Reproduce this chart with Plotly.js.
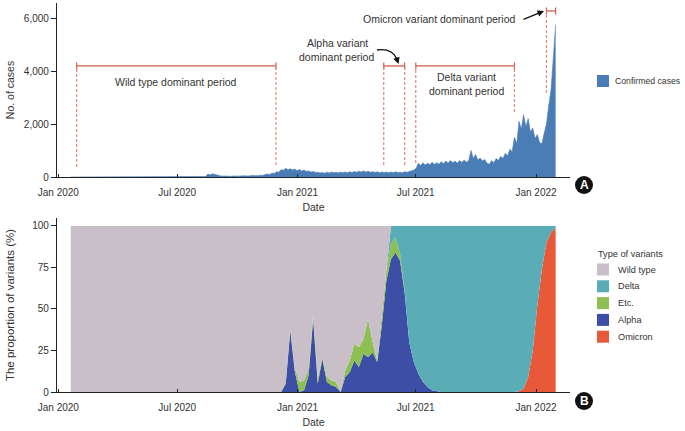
<!DOCTYPE html>
<html>
<head>
<meta charset="utf-8">
<script src="https://cdn.plot.ly/plotly-3.0.1.min.js"></script>
<style>html,body{margin:0;padding:0;background:#fff;}#chart{width:685px;height:431px;}</style>
</head>
<body>
<div id="chart"></div>
<script>
// ---------------- DATA ----------------
const tickDates = ['2020-01-01', '2020-07-01', '2021-01-01', '2021-07-01', '2022-01-01'];
const tickLabels = ['Jan 2020', 'Jul 2020', 'Jan 2021', 'Jul 2021', 'Jan 2022'];

// Confirmed cases, read every 3.5 days starting 2020-01-20
const casesStart = '2020-01-20';
const casesStepDays = 3.5;
const cases = [
  0, 0, 2, 3, 8, 15, 12, 20, 18, 10, 8, 5, 6, 4, 3, 3, 2, 2, 1, 3,
  4, 5, 6, 8, 10, 7, 6, 5, 8, 10, 12, 9, 8, 6, 5, 6, 8, 10, 9, 7,
  8, 10, 12, 8, 6, 5, 4, 5, 7, 9, 8, 6, 5, 4, 6, 8, 10, 12, 15, 20,
  110, 80, 120, 95, 70,
  45, 30, 40, 28, 35, 25, 38, 30, 40, 32, 45, 35, 50, 40, 55, 45, 60, 50, 70, 60, 90,
  110, 90, 150, 130, 200, 180, 280, 250,
  330, 270, 310, 260, 300, 240, 280,
  230, 260, 210, 230, 190, 210, 170, 180, 150,
  170, 140, 180, 150, 190, 160, 175, 150, 185, 160, 190, 165, 200, 170, 210, 180, 220, 185, 230, 190,
  215, 180, 200, 170, 195, 165, 190, 160, 185, 160, 190, 165, 195, 170, 180, 160, 200, 175, 210,
  230, 260, 330,
  520, 430, 540, 450, 520, 460, 560, 470, 540, 480, 580,
  500, 600, 520, 620, 540, 600, 520, 620, 550, 640, 560, 620,
  1000,
  700, 850, 640, 720, 600, 660, 520, 480,
  620, 540, 700, 620, 780, 700, 900, 800, 1050, 950,
  1500, 1250, 2100, 1800, 2350, 1900, 2200,
  1700, 1850, 1450, 1600, 1300, 1250, 1650,
  2000, 2700, 3300, 4500, 5750
];
const casesName = 'Confirmed cases';

// Weekly proportion of variants (%)
const variantDates = [
  '2020-01-20',
  '2020-11-30', '2020-12-07', '2020-12-14', '2020-12-21', '2020-12-28',
  '2021-01-04', '2021-01-11', '2021-01-18', '2021-01-25',
  '2021-02-01', '2021-02-08', '2021-02-15', '2021-02-22',
  '2021-03-01', '2021-03-08', '2021-03-15', '2021-03-22', '2021-03-29',
  '2021-04-05', '2021-04-12', '2021-04-19', '2021-04-26',
  '2021-05-03', '2021-05-10', '2021-05-17', '2021-05-24', '2021-05-31',
  '2021-06-07', '2021-06-14', '2021-06-21', '2021-06-28',
  '2021-07-05', '2021-07-12', '2021-07-19', '2021-07-26',
  '2021-08-02', '2021-08-09', '2021-08-16', '2021-08-23', '2021-08-30',
  '2021-09-06', '2021-09-13', '2021-09-20', '2021-09-27',
  '2021-10-04', '2021-10-11', '2021-10-18', '2021-10-25',
  '2021-11-01', '2021-11-08', '2021-11-15', '2021-11-22', '2021-11-29',
  '2021-12-06', '2021-12-13', '2021-12-20', '2021-12-27',
  '2022-01-03', '2022-01-10', '2022-01-17', '2022-01-24', '2022-01-31'
];
const wildType = [
  100, 100, 100, 94, 62, 86, 94, 93, 86, 54, 92, 79, 91, 93, 94, 100, 87, 81, 71, 73,
  68, 56, 70, 81, 54, 27, 0, 0, 0, 0, 0, 0, 0, 0, 0, 0, 0, 0, 0, 0,
  0, 0, 0, 0, 0, 0, 0, 0, 0, 0, 0, 0, 0, 0, 0, 0, 0, 0, 0, 0,
  0, 0, 0
];
const delta = [
  0, 0, 0, 0, 0, 0, 0, 0, 0, 0, 0, 0, 0, 0, 0, 0, 0, 0, 0, 0,
  0, 0, 0, 0, 0, 0, 11, 7, 17, 39, 70, 82, 89, 94, 97, 99, 99.5, 100, 100, 100,
  100, 100, 100, 100, 100, 100, 100, 100, 100, 100, 100, 100, 100, 100, 99.5, 98, 91, 75, 48, 26,
  10, 4, 1
];
const etc = [
  0, 0, 0, 1, 1, 2, 6, 6, 4, 2, 3, 1, 3, 3, 3, 0, 4, 7, 10, 12,
  9, 23, 6, 1, 6, 6, 9, 9, 4, 1, 0, 0, 0, 0, 0, 0, 0, 0, 0, 0,
  0, 0, 0, 0, 0, 0, 0, 0, 0, 0, 0, 0, 0, 0, 0, 0, 0, 0, 0, 0,
  0, 0, 0
];
const alpha = [
  0, 0, 0, 5, 37, 12, 0, 1, 10, 44, 5, 20, 6, 4, 3, 0, 9, 12, 19, 15,
  23, 21, 24, 18, 40, 67, 80, 84, 79, 60, 30, 18, 11, 6, 3, 1, 0.5, 0, 0, 0,
  0, 0, 0, 0, 0, 0, 0, 0, 0, 0, 0, 0, 0, 0, 0, 0, 0, 0, 0, 0,
  0, 0, 0
];
const omicron = [
  0, 0, 0, 0, 0, 0, 0, 0, 0, 0, 0, 0, 0, 0, 0, 0, 0, 0, 0, 0,
  0, 0, 0, 0, 0, 0, 0, 0, 0, 0, 0, 0, 0, 0, 0, 0, 0, 0, 0, 0,
  0, 0, 0, 0, 0, 0, 0, 0, 0, 0, 0, 0, 0, 0, 0.5, 2, 9, 25, 52, 74,
  90, 96, 99
];
const variantNames = ['Wild type', 'Delta', 'Etc.', 'Alpha', 'Omicron'];
const variantLegendTitle = 'Type of variants';

// Dominant periods (annotations on panel A)
const periodLabels = [
  ['Wild type dominant period'],
  ['Alpha variant', 'dominant period'],
  ['Delta variant', 'dominant period'],
  ['Omicron variant dominant period']
];
const periodStart = ['2020-01-29', '2021-05-13', '2021-07-01', '2022-01-17'];
const periodEnd = ['2020-11-29', '2021-06-14', '2021-11-29', '2022-01-31'];

// ---------------- STYLE ----------------
const FONT = '"Liberation Sans", Arial, sans-serif';
const TXT = '#333333';
const colors = {
  cases: '#4a7db5',
  'Wild type': '#c9bfc9',
  'Delta': '#5aadb7',
  'Etc.': '#8dbf52',
  'Alpha': '#3d4ea6',
  'Omicron': '#e8593a'
};
const bracketColor = '#cf5d4c';
const dashColor = '#e2887d';

// plot area in pixels (for paper-referenced decorations)
const PL = 57, PR = 570, PT = 3, PB = 392;
const px = v => (v - PL) / (PR - PL);
const py = v => (PB - v) / (PB - PT);

const caseDates = cases.map((_, i) =>
  new Date(Date.parse(casesStart + 'T00:00:00Z') + i * casesStepDays * 86400000).toISOString());

const traces = [];
traces.push({
  type: 'scatter', mode: 'lines', x: caseDates, y: cases, name: casesName,
  fill: 'tozeroy', fillcolor: colors.cases,
  line: {color: colors.cases, width: 0.6},
  xaxis: 'x', yaxis: 'y', showlegend: false
});
// stacking order from bottom: Omicron, Alpha, Etc., Delta, Wild type
const stackOrder = [['Omicron', omicron], ['Alpha', alpha], ['Etc.', etc], ['Delta', delta], ['Wild type', wildType]];
stackOrder.forEach(([name, vals]) => {
  traces.push({
    type: 'scatter', mode: 'lines', x: variantDates, y: vals, name: name,
    stackgroup: 'variants', fillcolor: colors[name],
    line: {color: colors[name], width: 0},
    xaxis: 'x2', yaxis: 'y2', showlegend: false
  });
});

const xCommon = {
  type: 'date', range: ['2019-12-30', '2022-02-22'],
  tickmode: 'array', tickvals: tickDates, ticktext: tickLabels,
  ticks: 'inside', ticklen: 3, tickwidth: 1, tickcolor: '#222',
  showline: true, linecolor: '#222', linewidth: 1.3,
  showgrid: false, zeroline: false,
  tickfont: {family: FONT, size: 10, color: TXT},
  ticklabelstandoff: 6
};
const yCommon = {
  ticks: 'outside', ticklen: 5, tickwidth: 1, tickcolor: '#222',
  showline: true, linecolor: '#222', linewidth: 1.1,
  showgrid: false, zeroline: false,
  tickfont: {family: FONT, size: 10, color: TXT}
};

const shapes = [];
const annotations = [];
const lvl = [4190, 4190, 4190, 6265];
const dashBottoms = [[380, 450], [450, 450], [528, 2450], [3170, null]];
const labelPos = [
  [[176, 82]],
  [[337, 43], [336.5, 57]],
  [[466, 77], [466, 91]],
  [[438.5, 19]]
];
periodStart.forEach((s, k) => {
  const e = periodEnd[k];
  const y = lvl[k];
  shapes.push({type: 'line', xref: 'x', yref: 'y', x0: s, x1: e, y0: y, y1: y,
    line: {color: bracketColor, width: 1.3}});
  [s, e].forEach(d => {
    shapes.push({type: 'line', xref: 'x', yref: 'y', x0: d, x1: d, y0: y - 130, y1: y + 130,
      line: {color: bracketColor, width: 1.2}});
  });
  const [b0, b1] = dashBottoms[k];
  shapes.push({type: 'line', xref: 'x', yref: 'y', x0: s, x1: s, y0: b0, y1: y,
    line: {color: dashColor, width: 1.2, dash: '3px,2px'}});
  if (b1 !== null) {
    shapes.push({type: 'line', xref: 'x', yref: 'y', x0: e, x1: e, y0: b1, y1: y,
      line: {color: dashColor, width: 1.2, dash: '3px,2px'}});
  }
  periodLabels[k].forEach((t, li) => {
    const [cx, cy] = labelPos[k][li];
    annotations.push({xref: 'paper', yref: 'paper', x: px(cx), y: py(cy), text: t,
      showarrow: false, xanchor: 'center', yanchor: 'middle',
      font: {family: FONT, size: 10.5, color: TXT}});
  });
});
// curved arrow for Alpha
shapes.push({type: 'path', xref: 'paper', yref: 'paper',
  path: `M ${px(377)} ${py(50)} Q ${px(392)} ${py(48)} ${px(397)} ${py(59)}`,
  line: {color: '#111', width: 1.3}});
annotations.push({xref: 'paper', yref: 'paper', x: px(398.5), y: py(64), ax: -2, ay: -6,
  text: '', showarrow: true, arrowhead: 2, arrowsize: 1, arrowwidth: 1.3, arrowcolor: '#111'});
// straight arrow for Omicron
annotations.push({xref: 'paper', yref: 'paper', x: px(544), y: py(11), ax: -22, ay: 9,
  text: '', showarrow: true, arrowhead: 2, arrowsize: 1, arrowwidth: 1.3, arrowcolor: '#111'});
// panel badges
[['A', 185], ['B', 401]].forEach(([t, cy]) => {
  shapes.push({type: 'circle', xref: 'paper', yref: 'paper',
    x0: px(584 - 9), x1: px(584 + 9), y0: py(cy + 9), y1: py(cy - 9),
    fillcolor: '#111', line: {width: 0}});
  annotations.push({xref: 'paper', yref: 'paper', x: px(584), y: py(cy), text: '<b>' + t + '</b>',
    showarrow: false, xanchor: 'center', yanchor: 'middle',
    font: {family: FONT, size: 12, color: '#fff'}});
});

// legends (square swatch + label)
function legendItem(name, color, cy, tx, fs) {
  shapes.push({type: 'rect', xref: 'paper', yref: 'paper',
    x0: px(597), x1: px(609), y0: py(cy + 6), y1: py(cy - 6),
    fillcolor: color, line: {width: 0}});
  annotations.push({xref: 'paper', yref: 'paper', x: px(tx), y: py(cy), text: name,
    showarrow: false, xanchor: 'left', yanchor: 'middle',
    font: {family: FONT, size: fs, color: TXT}});
}
legendItem(casesName, colors.cases, 81, 613, 8.7);
annotations.push({xref: 'paper', yref: 'paper', x: px(596), y: py(254), text: variantLegendTitle,
  showarrow: false, xanchor: 'left', yanchor: 'middle',
  font: {family: FONT, size: 9.2, color: TXT}});
variantNames.forEach((name, i) => legendItem(name, colors[name], 269.5 + i * 16.8, 615.5, 9.2));

const layout = {
  width: 685, height: 431,
  margin: {l: PL, r: 685 - PR, t: PT, b: 431 - PB, autoexpand: false},
  paper_bgcolor: '#fff', plot_bgcolor: '#fff',
  font: {family: FONT, size: 10, color: TXT},
  showlegend: false,
  xaxis: Object.assign({}, xCommon, {domain: [0, 1], anchor: 'y',
    title: {text: 'Date', font: {family: FONT, size: 10.5, color: TXT}, standoff: 6}}),
  yaxis: Object.assign({}, yCommon, {domain: [py(177), 1], anchor: 'x', range: [0, 6566],
    tickmode: 'array', tickvals: [0, 2000, 4000, 6000], ticktext: ['0', '2,000', '4,000', '6,000'],
    title: {text: 'No. of cases', font: {family: FONT, size: 10.5, color: TXT}, standoff: 7}}),
  xaxis2: Object.assign({}, xCommon, {domain: [0, 1], anchor: 'y2',
    title: {text: 'Date', font: {family: FONT, size: 10.5, color: TXT}, standoff: 6}}),
  yaxis2: Object.assign({}, yCommon, {domain: [0, py(218)], anchor: 'x2', range: [0, 104.8],
    tickmode: 'array', tickvals: [0, 25, 50, 75, 100],
    title: {text: 'The proportion of variants (%)', font: {family: FONT, size: 11.5, color: TXT}, standoff: 15}}),
  shapes: shapes,
  annotations: annotations,
  hovermode: false
};

Plotly.newPlot('chart', traces, layout, {displayModeBar: false, staticPlot: true});
</script>
</body>
</html>
